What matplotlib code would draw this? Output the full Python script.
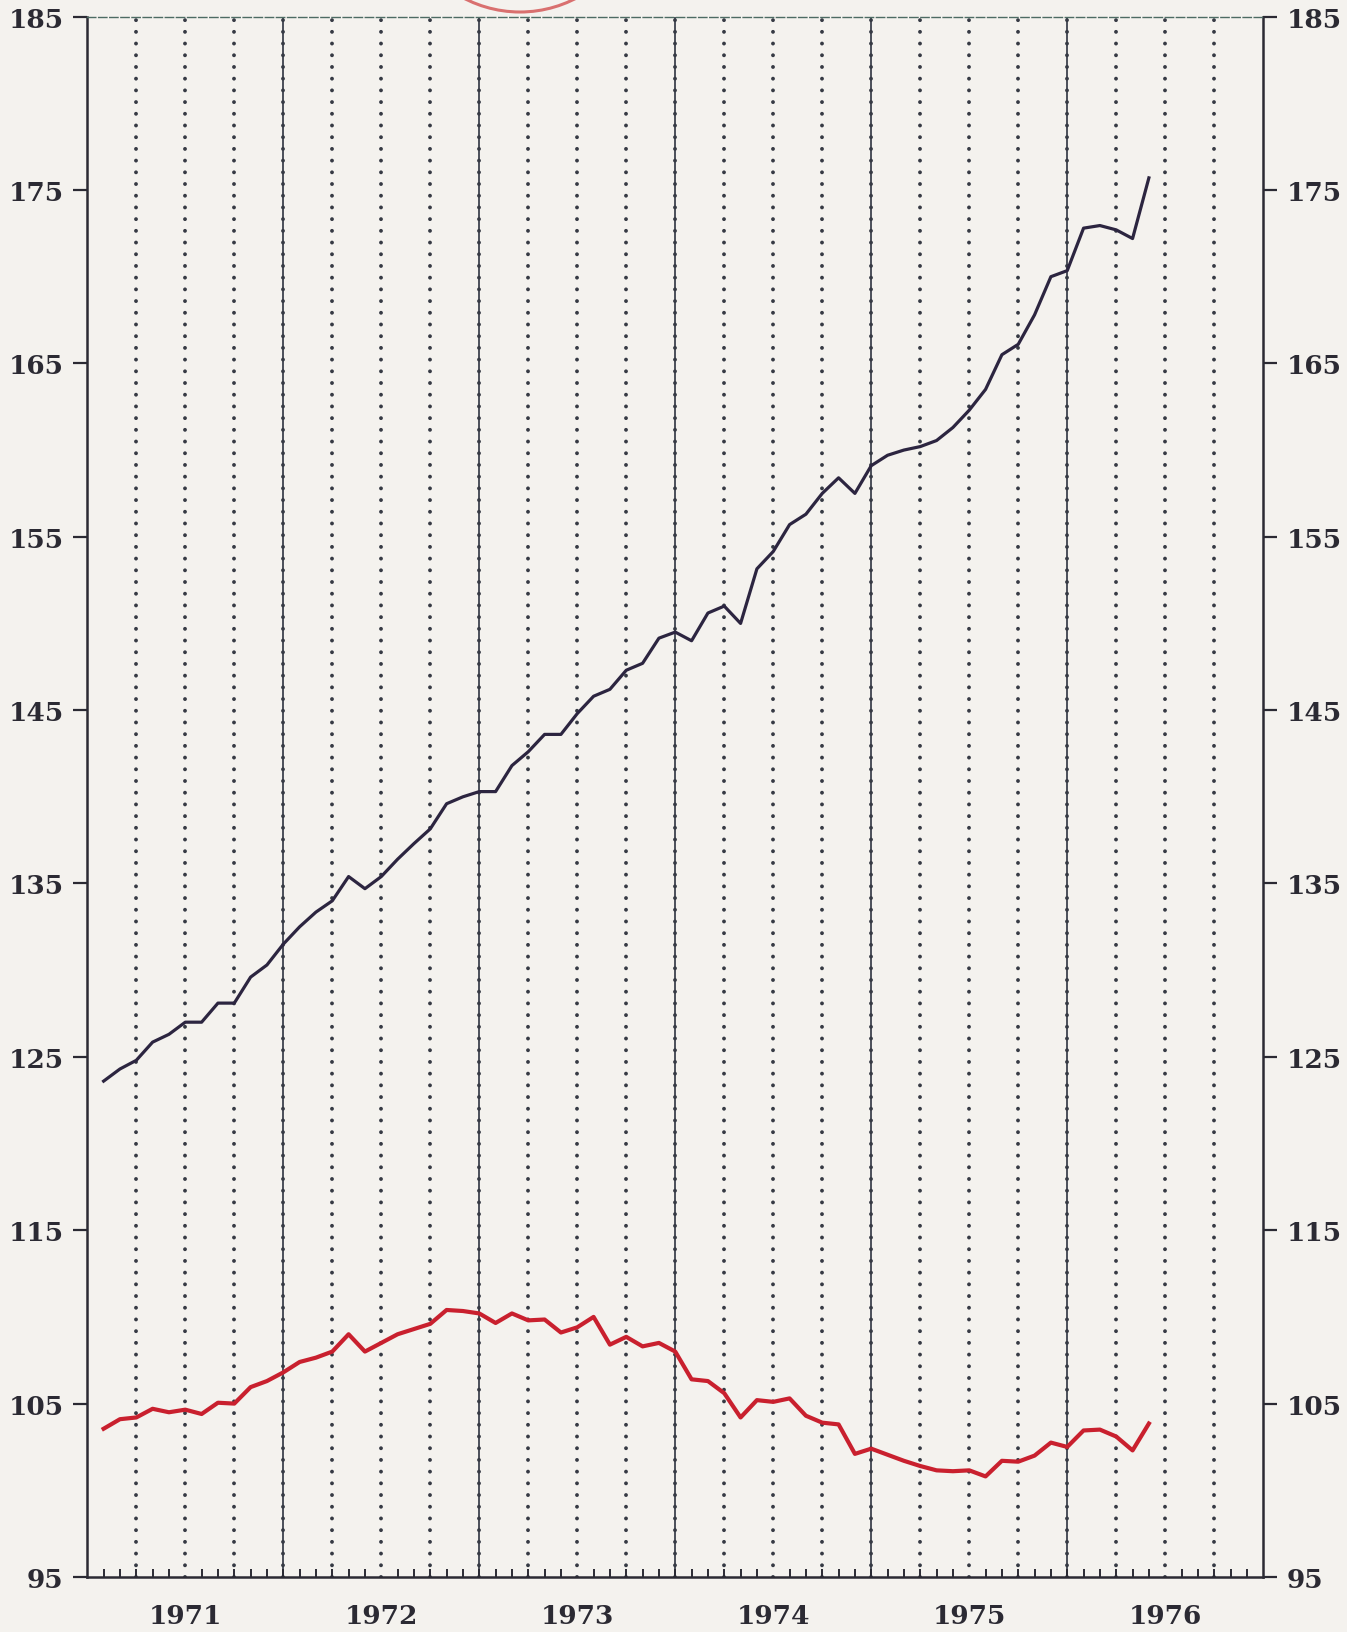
import matplotlib
matplotlib.use("Agg")
import matplotlib.pyplot as plt
from matplotlib.patches import Arc
import numpy as np

# Monthly index readings, Feb 1971 .. Jun 1976 (x = months since Jan 1971)
months = list(range(1, 66))

upper_series = [
    123.6, 124.3, 124.8, 125.85, 126.3, 127.0, 127.0, 128.1, 128.1, 129.6,
    130.3, 131.5, 132.5, 133.35, 134.0, 135.4, 134.7, 135.4, 136.4, 137.3,
    138.15, 139.6, 140.0, 140.3, 140.3, 141.8, 142.6, 143.6, 143.6, 144.8,
    145.8, 146.2, 147.3, 147.7, 149.15, 149.5, 149.0, 150.6, 151.0, 150.0,
    153.15, 154.15, 155.7, 156.3, 157.5, 158.4, 157.5, 159.1, 159.7, 160.0,
    160.2, 160.55, 161.3, 162.3, 163.5, 165.5, 166.1, 167.8, 170.0, 170.35,
    172.8, 172.95, 172.7, 172.2, 175.7,
]

lower_series = [
    103.55, 104.1, 104.2, 104.7, 104.5, 104.65, 104.4, 105.05, 105.0, 105.95,
    106.3, 106.8, 107.4, 107.65, 108.0, 109.0, 108.0, 108.5, 109.0, 109.3,
    109.6, 110.4, 110.34, 110.2, 109.65, 110.2, 109.8, 109.85, 109.1, 109.4,
    110.0, 108.4, 108.85, 108.3, 108.5, 108.0, 106.4, 106.3, 105.6, 104.2,
    105.2, 105.1, 105.3, 104.3, 103.9, 103.8, 102.1, 102.4, 102.05, 101.7,
    101.4, 101.15, 101.1, 101.15, 100.8, 101.7, 101.65, 102.0, 102.75, 102.5,
    103.45, 103.5, 103.1, 102.3, 103.85,
]

years = ["1971", "1972", "1973", "1974", "1975", "1976"]
y_ticks = [95, 105, 115, 125, 135, 145, 155, 165, 175, 185]

BG = "#f4f2ee"
INK = "#2b2a33"

fig = plt.figure(figsize=(13.47, 16.33), dpi=100, facecolor=BG)
ax = fig.add_axes([0.0648, 0.0337, 0.8730, 0.9555])
ax.set_facecolor(BG)

n_months = 12 * len(years)
ax.set_xlim(0, n_months)
ax.set_ylim(95, 185)

# quarter lines dotted, year lines solid + dotted
for m in range(3, n_months, 3):
    if m % 12 == 0:
        ax.axvline(m, color="#2e3440", lw=1.2, zorder=1)
    ax.axvline(m, color="#363a44", lw=2.8, linestyle=(0, (0.01, 3.0)),
               dash_capstyle="round", zorder=1)

ax.plot(months, upper_series, color="#2c2540", lw=2.3, zorder=3)
ax.plot(months, lower_series, color="#c9202e", lw=3.0, zorder=3)

# spines
for side in ["left", "right", "bottom"]:
    ax.spines[side].set_color(INK)
    ax.spines[side].set_linewidth(1.8)
ax.spines["top"].set_color("#4d6b63")
ax.spines["top"].set_linewidth(1.0)
ax.spines["top"].set_linestyle((0, (6, 2)))

tick_font = {"family": "DejaVu Serif", "weight": "bold", "size": 19}

# y axis labels on both sides
ax.set_yticks(y_ticks)
ax.set_yticklabels([str(v) for v in y_ticks], fontdict=tick_font, color=INK)
ax.tick_params(axis="y", which="major", direction="out", length=10,
               width=1.6, color=INK, left=True, right=True,
               labelleft=True, labelright=True, pad=7)

# x axis: month ticks inward, year labels centered in each year
ax.set_xticks([12 * i + 6 for i in range(len(years))])
ax.set_xticklabels(years, fontdict=tick_font, color=INK)
ax.set_xticks(range(1, n_months), minor=True)
ax.tick_params(axis="x", which="major", length=0, pad=19)
ax.tick_params(axis="x", which="minor", direction="in", length=6,
               width=1.4, color=INK, top=False)

# faint stamp ring at the top edge of the scan
ring = Arc((520 / 1347, 1 + 108 / 1633), 2 * 121 / 1347, 2 * 121 / 1633,
           theta1=200, theta2=340, transform=fig.transFigure,
           color="#d9706f", lw=2.2, zorder=0)
fig.patches.append(ring)

fig.savefig("out.png", dpi=100, facecolor=BG)
